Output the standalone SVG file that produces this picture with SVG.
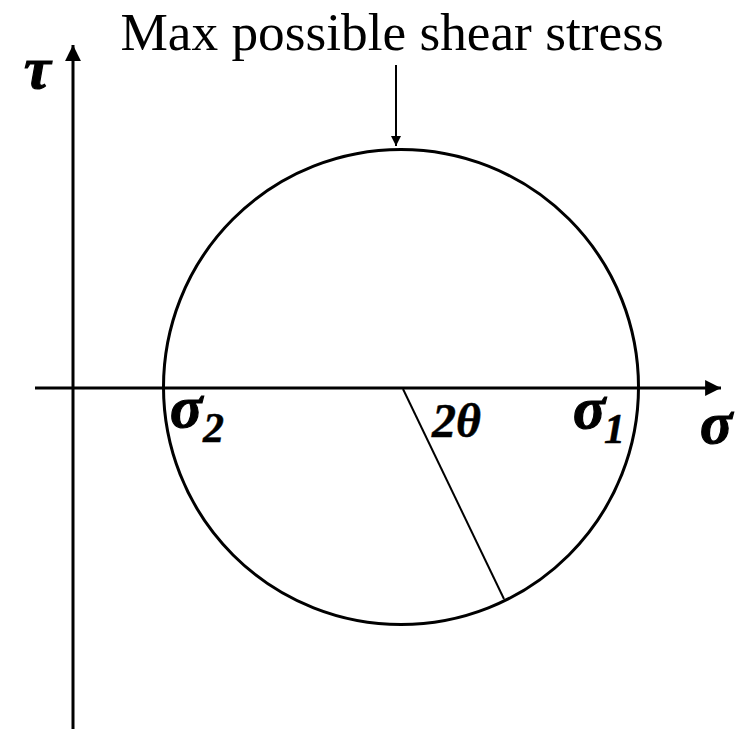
<svg xmlns="http://www.w3.org/2000/svg" width="744" height="729" viewBox="0 0 744 729">
<style>
.ax{stroke:#000;stroke-width:3;fill:none}
.ln{stroke:#000;stroke-width:2;fill:none}
.sym{font-family:"Liberation Serif","DejaVu Serif",serif;font-weight:bold;font-style:italic;fill:#000;stroke:#000;stroke-width:1.2}
.sub{font-family:"Liberation Serif","DejaVu Serif",serif;font-weight:bold;font-style:italic;fill:#000;stroke:#000;stroke-width:0.5}
.lbl{font-family:"Liberation Serif","DejaVu Serif",serif;fill:#000}
</style>
<defs>
<marker id="ah" viewBox="0 0 10 10" refX="10" refY="5" markerWidth="5.3" markerHeight="5.3" orient="auto" markerUnits="strokeWidth">
<path d="M0,0 L10,5 L0,10 Z" fill="#000"/>
</marker>
<marker id="ah2" viewBox="0 0 10 10" refX="10" refY="5" markerWidth="7.5" markerHeight="5" orient="auto" markerUnits="strokeWidth">
<path d="M0,0 L10,5 L0,10 Z" fill="#000"/>
</marker>
</defs>
<g id="connectors">
<line class="ax" x1="73" y1="729" x2="73" y2="45" marker-end="url(#ah)"/>
<line class="ax" x1="35" y1="388" x2="721" y2="388" marker-end="url(#ah)"/>
<line class="ln" x1="396" y1="65" x2="396" y2="146" marker-end="url(#ah2)"/>
<line class="ln" x1="403" y1="389" x2="504" y2="599"/>
</g>
<g id="circle">
<circle cx="401" cy="387" r="237.5" class="ax"/>
</g>
<g id="title">
<text class="lbl" x="392" y="50" font-size="53.3" text-anchor="middle">Max possible shear stress</text>
</g>
<g id="tau">
<text class="sym" x="24" y="88" font-size="60">τ</text>
</g>
<g id="sigma">
<text class="sym" x="700" y="443" font-size="60">σ</text>
</g>
<g id="sigma2">
<text class="sym" x="170" y="427" font-size="60">σ</text>
<text class="sub" x="203" y="442" font-size="42">2</text>
</g>
<g id="sigma1">
<text class="sym" x="573" y="428" font-size="60">σ</text>
<text class="sub" x="604" y="443" font-size="42">1</text>
</g>
<g id="theta">
<text class="sub" x="432" y="437" font-size="48">2θ</text>
</g>
</svg>
